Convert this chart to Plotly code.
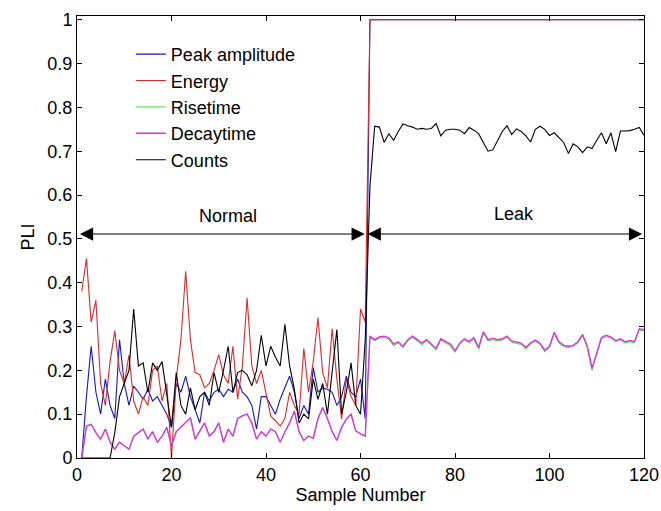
import plotly.graph_objects as go

samples = list(range(1, 121))

peak_amplitude = [
    0.0, 0.14, 0.255, 0.15, 0.10, 0.18, 0.12, 0.09, 0.27, 0.17,
    0.12, 0.164, 0.15, 0.134, 0.157, 0.13, 0.14, 0.12, 0.10, 0.07,
    0.17, 0.15, 0.187, 0.14, 0.11, 0.08, 0.15, 0.13, 0.15, 0.157,
    0.14, 0.157, 0.15, 0.18, 0.15, 0.14, 0.12, 0.066, 0.14, 0.14,
    0.12, 0.10, 0.134, 0.16, 0.187, 0.15, 0.09, 0.12, 0.10, 0.206,
    0.15, 0.16, 0.157, 0.15, 0.12, 0.14, 0.187, 0.15, 0.14, 0.18,
    0.09, 1.0, 1.0, 1.0, 1.0, 1.0, 1.0, 1.0, 1.0, 1.0,
    1.0, 1.0, 1.0, 1.0, 1.0, 1.0, 1.0, 1.0, 1.0, 1.0,
    1.0, 1.0, 1.0, 1.0, 1.0, 1.0, 1.0, 1.0, 1.0, 1.0,
    1.0, 1.0, 1.0, 1.0, 1.0, 1.0, 1.0, 1.0, 1.0, 1.0,
    1.0, 1.0, 1.0, 1.0, 1.0, 1.0, 1.0, 1.0, 1.0, 1.0,
    1.0, 1.0, 1.0, 1.0, 1.0, 1.0, 1.0, 1.0, 1.0, 1.0,
]

energy = [
    0.38, 0.455, 0.31, 0.36, 0.17, 0.12, 0.22, 0.29, 0.20, 0.17,
    0.235, 0.13, 0.10, 0.14, 0.12, 0.20, 0.21, 0.13, 0.17, 0.0,
    0.18, 0.27, 0.426, 0.27, 0.195, 0.19, 0.16, 0.17, 0.20, 0.236,
    0.19, 0.17, 0.255, 0.134, 0.21, 0.365, 0.21, 0.17, 0.20, 0.15,
    0.096, 0.085, 0.073, 0.09, 0.15, 0.12, 0.10, 0.25, 0.15, 0.22,
    0.32, 0.195, 0.16, 0.295, 0.18, 0.089, 0.18, 0.14, 0.12, 0.34,
    0.31, 1.0, 1.0, 1.0, 1.0, 1.0, 1.0, 1.0, 1.0, 1.0,
    1.0, 1.0, 1.0, 1.0, 1.0, 1.0, 1.0, 1.0, 1.0, 1.0,
    1.0, 1.0, 1.0, 1.0, 1.0, 1.0, 1.0, 1.0, 1.0, 1.0,
    1.0, 1.0, 1.0, 1.0, 1.0, 1.0, 1.0, 1.0, 1.0, 1.0,
    1.0, 1.0, 1.0, 1.0, 1.0, 1.0, 1.0, 1.0, 1.0, 1.0,
    1.0, 1.0, 1.0, 1.0, 1.0, 1.0, 1.0, 1.0, 1.0, 1.0,
]

risetime = [
    0.0, 0.073, 0.077, 0.058, 0.043, 0.066, 0.036, 0.02, 0.036, 0.028,
    0.02, 0.05, 0.058, 0.066, 0.043, 0.06, 0.036, 0.05, 0.07, 0.028,
    0.06, 0.07, 0.08, 0.092, 0.043, 0.06, 0.08, 0.05, 0.06, 0.08,
    0.036, 0.066, 0.05, 0.09, 0.096, 0.10, 0.08, 0.043, 0.06, 0.05,
    0.066, 0.06, 0.036, 0.06, 0.08, 0.107, 0.06, 0.04, 0.05, 0.045,
    0.09, 0.115, 0.09, 0.06, 0.04, 0.07, 0.089, 0.10, 0.062, 0.055,
    0.05, 0.275, 0.267, 0.273, 0.275, 0.271, 0.256, 0.262, 0.251, 0.267,
    0.275, 0.267, 0.258, 0.267, 0.257, 0.246, 0.269, 0.262, 0.256, 0.241,
    0.259, 0.269, 0.263, 0.271, 0.248, 0.285, 0.267, 0.27, 0.267, 0.269,
    0.275, 0.264, 0.261, 0.259, 0.248, 0.26, 0.266, 0.259, 0.242, 0.252,
    0.284, 0.262, 0.254, 0.252, 0.254, 0.262, 0.279, 0.252, 0.2, 0.234,
    0.272, 0.277, 0.273, 0.265, 0.269, 0.262, 0.265, 0.263, 0.292, 0.29,
]

decaytime = [
    0.0, 0.073, 0.077, 0.058, 0.043, 0.066, 0.036, 0.02, 0.036, 0.028,
    0.02, 0.05, 0.058, 0.066, 0.043, 0.06, 0.036, 0.05, 0.07, 0.028,
    0.06, 0.07, 0.08, 0.092, 0.043, 0.06, 0.08, 0.05, 0.06, 0.08,
    0.036, 0.066, 0.05, 0.09, 0.096, 0.10, 0.08, 0.043, 0.06, 0.05,
    0.066, 0.06, 0.036, 0.06, 0.08, 0.107, 0.06, 0.04, 0.05, 0.045,
    0.09, 0.115, 0.09, 0.06, 0.04, 0.07, 0.089, 0.10, 0.062, 0.055,
    0.05, 0.278, 0.27, 0.276, 0.278, 0.274, 0.26, 0.265, 0.255, 0.27,
    0.278, 0.27, 0.262, 0.27, 0.26, 0.25, 0.272, 0.265, 0.26, 0.245,
    0.262, 0.272, 0.266, 0.274, 0.252, 0.288, 0.27, 0.273, 0.27, 0.272,
    0.278, 0.267, 0.264, 0.262, 0.252, 0.263, 0.269, 0.262, 0.246, 0.255,
    0.287, 0.265, 0.257, 0.255, 0.257, 0.265, 0.282, 0.255, 0.205, 0.238,
    0.275, 0.28, 0.276, 0.268, 0.272, 0.265, 0.268, 0.266, 0.295, 0.293,
]

counts = [
    0.0, 0.0, 0.0, 0.0, 0.0, 0.0, 0.0, 0.058, 0.14, 0.17,
    0.20, 0.34, 0.21, 0.217, 0.15, 0.217, 0.20, 0.22, 0.15, 0.07,
    0.195, 0.12, 0.10, 0.16, 0.11, 0.14, 0.15, 0.12, 0.195, 0.15,
    0.20, 0.255, 0.15, 0.195, 0.20, 0.19, 0.165, 0.20, 0.28, 0.21,
    0.255, 0.23, 0.21, 0.305, 0.21, 0.157, 0.08, 0.10, 0.089, 0.18,
    0.134, 0.17, 0.10, 0.20, 0.293, 0.10, 0.15, 0.217, 0.12, 0.10,
    0.27, 0.62, 0.757, 0.755, 0.72, 0.74, 0.725, 0.745, 0.762, 0.758,
    0.755, 0.75, 0.752, 0.75, 0.752, 0.763, 0.735, 0.748, 0.75, 0.75,
    0.748, 0.74, 0.754, 0.748, 0.74, 0.72, 0.70, 0.703, 0.725, 0.745,
    0.758, 0.738, 0.751, 0.745, 0.735, 0.721, 0.75, 0.757, 0.75, 0.736,
    0.742, 0.73, 0.72, 0.695, 0.717, 0.71, 0.697, 0.71, 0.706, 0.725,
    0.742, 0.717, 0.742, 0.699, 0.746, 0.746, 0.747, 0.75, 0.754, 0.736,
]

series_names = ["Peak amplitude", "Energy", "Risetime", "Decaytime", "Counts"]
series_values = [peak_amplitude, energy, risetime, decaytime, counts]
series_colors = ["#1616c4", "#e02828", "#3ee03e", "#dd33dd", "#000000"]
series_widths = [1.1, 1.1, 1.0, 1.4, 1.1]

x_ticks = [0, 20, 40, 60, 80, 100, 120]
y_ticks = [0, 0.1, 0.2, 0.3, 0.4, 0.5, 0.6, 0.7, 0.8, 0.9, 1]

region_labels = ["Normal", "Leak"]
region_spans = [(0.3, 60.9), (61.2, 119.6)]
region_label_pos = [(31.9, 0.552), (92.5, 0.556)]
arrow_level = 0.511

FONT = "Liberation Sans, Arial, sans-serif"
FS = 18

fig = go.Figure()
for name, vals, col, w in zip(series_names, series_values, series_colors, series_widths):
    fig.add_trace(go.Scatter(x=samples, y=vals, mode="lines", name=name,
                             line=dict(color=col, width=w)))

for (x0, x1) in region_spans:
    fig.add_annotation(x=x1, y=arrow_level, ax=x0, ay=arrow_level,
                       xref="x", yref="y", axref="x", ayref="y",
                       text="", showarrow=True, arrowhead=2, arrowside="end+start",
                       arrowsize=2.4, arrowwidth=1.1, arrowcolor="black",
                       standoff=0, startstandoff=0)
for lab, (lx, ly) in zip(region_labels, region_label_pos):
    fig.add_annotation(x=lx, y=ly, xref="x", yref="y", text=lab, showarrow=False,
                       font=dict(family=FONT, size=FS, color="black"))

axis_common = dict(showline=True, linecolor="black", linewidth=1, mirror="allticks",
                   ticks="inside", ticklen=5, tickcolor="black", showgrid=False,
                   zeroline=False, automargin=False,
                   tickfont=dict(family=FONT, size=FS, color="black"))

fig.update_xaxes(range=[0, 120], tickvals=x_ticks,
                 title=dict(text="Sample Number", font=dict(family=FONT, size=FS, color="black"), standoff=2),
                 **axis_common)
fig.update_yaxes(range=[0, 1.0085], tickvals=y_ticks,
                 ticktext=[("%g" % v) for v in y_ticks],
                 title=dict(text="PLI", font=dict(family=FONT, size=FS, color="black"), standoff=8),
                 **axis_common)

fig.update_layout(
    width=661, height=511,
    margin=dict(l=77, r=17, t=16, b=53),
    paper_bgcolor="white", plot_bgcolor="white",
    showlegend=True,
    legend=dict(x=0.095, y=0.955, xanchor="left", yanchor="top",
                bgcolor="rgba(255,255,255,0)", borderwidth=0,
                font=dict(family=FONT, size=FS, color="black")),
)

fig.write_html("out.html", config={"displayModeBar": False},
               post_script="document.body.style.margin='0px';document.body.style.padding='0px';document.body.style.overflow='hidden';")
